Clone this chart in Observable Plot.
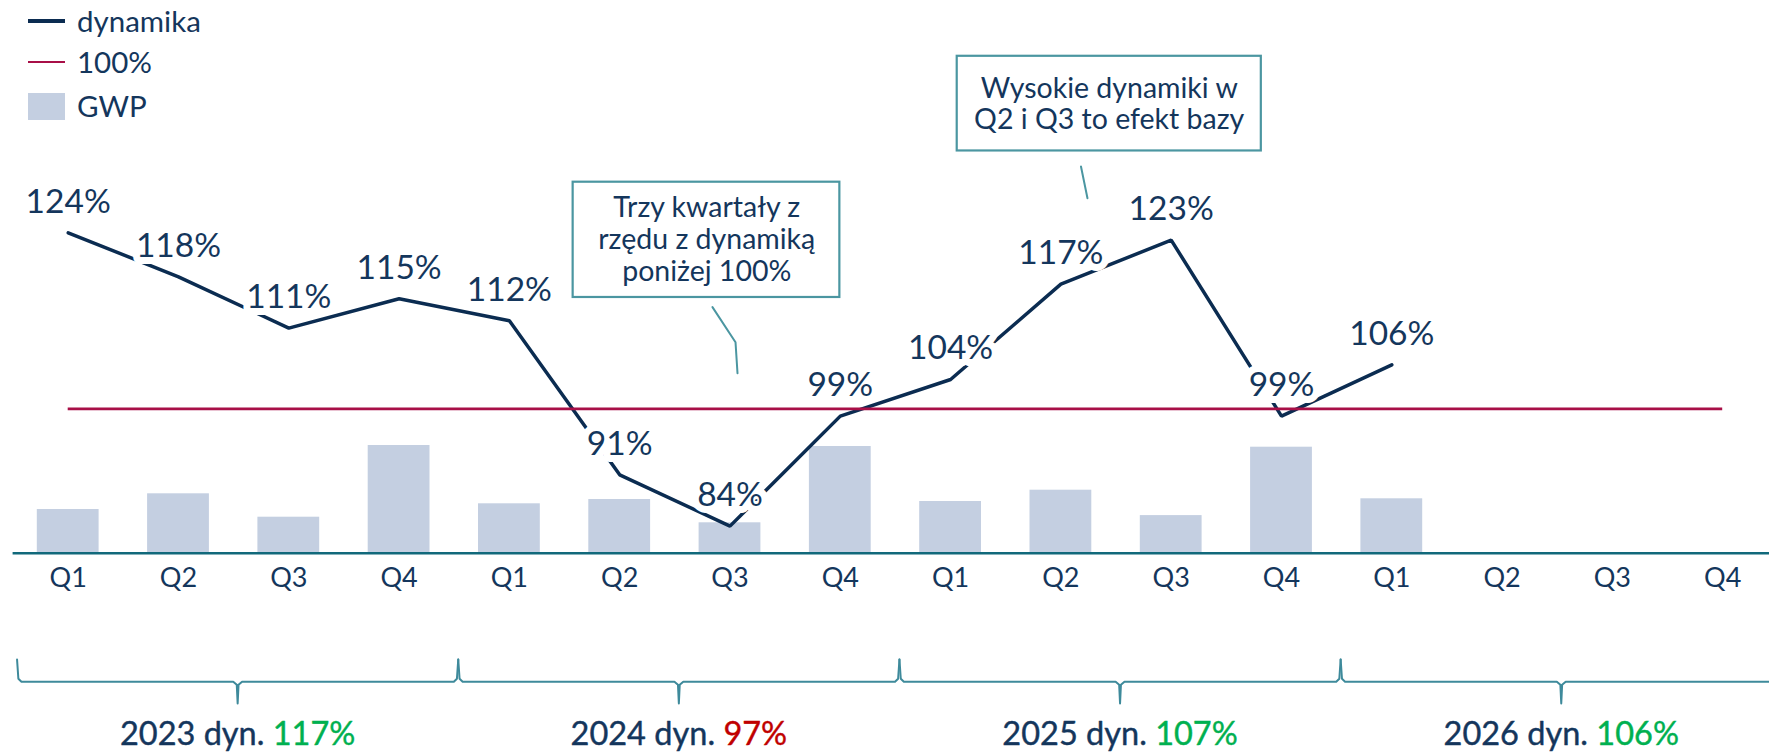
<!DOCTYPE html>
<html>
<head>
<meta charset="utf-8">
<script src="https://cdn.jsdelivr.net/npm/d3@7"></script>
<script src="https://cdn.jsdelivr.net/npm/@observablehq/plot@0.6"></script>
<style>
  html, body { margin: 0; padding: 0; background: #fff; overflow: hidden; }
  #wrap { position: relative; width: 1769px; height: 753px; font-family: Lato, "Open Sans", sans-serif; color: #14365c; }
  #wrap svg { position: absolute; left: 0; top: 0; }
  .lg { position: absolute; left: 28px; height: 34px; display: flex; align-items: center; font-size: 29.5px; line-height: 34px; white-space: nowrap; }
  .lg .sw { width: 37px; margin-right: 12px; }
</style>
</head>
<body>
<div id="wrap">
  <div class="lg" style="top:4px"><span class="sw" style="height:4px;background:#0b2c51"></span>dynamika</div>
  <div class="lg" style="top:45px"><span class="sw" style="height:2.7px;background:#a80f47"></span>100%</div>
  <div class="lg" style="top:89px"><span class="sw" style="height:27px;background:#c4cfe1"></span>GWP</div>
</div>
<script>
// ---- data ----
const quarters = ["Q1", "Q2", "Q3", "Q4"];
const years = ["2023", "2024", "2025", "2026"];
const dynamika = [124, 118, 111, 115, 112, 91, 84, 99, 104, 117, 123, 99, 106];
const gwp = [43.7, 59.4, 36, 107.7, 49.4, 53.7, 30.4, 106.7, 51.7, 63, 37.6, 106, 54.4];
const yearDyn = [117, 97, 107, 106];
const reference = [100];
const note1 = ["Trzy kwartały z", "rzędu z dynamiką", "poniżej 100%"];
const note2 = ["Wysokie dynamiki w", "Q2 i Q3 to efekt bazy"];

// ---- derived tables ----
const nPeriods = years.length * quarters.length;
const rows = dynamika.map((v, i) => ({i, dyn: v, gwp: gwp[i]}));

const NAVY = "#0b2c51", TEXT = "#14365c", BAR = "#c4cfe1", RED = "#a80f47",
      AXIS = "#11697b", TEAL = "#4b96a1", BRACE = "#3e8a9b", GOOD = "#00b050", BAD = "#c00000";

const X = {type: "linear", domain: [0, nPeriods - 1], range: [67.7, 1722.2]};

// bracket geometry (in bottom-plot y units, below the baseline)
const bTop = -106.3, bBase = -128.6, bTip = -150.3;
const brackets = years.flatMap((yr, k) => {
  const a = 4 * k - 0.5, c = 4 * k + 1.5, b = 4 * k + 3.5;
  return [
    [a, bTop], [a + 0.012, bBase + 3], [a + 0.04, bBase],
    [c - 0.04, bBase], [c - 0.008, bBase - 3], [c, bTip],
    [c + 0.008, bBase - 3], [c + 0.04, bBase],
    [b - 0.04, bBase], [b - 0.012, bBase + 3], [b, bTop]
  ].map(([x, y]) => ({year: yr, x, y}));
});

const bottomPlot = Plot.plot({
  width: 1769, height: 753,
  marginLeft: 12.6, marginRight: 0, marginTop: 0, marginBottom: 200.3,
  x: X,
  y: {domain: [0, 100], range: [552.7, 452.7], axis: null},
  style: {background: "transparent", fontFamily: "Lato, sans-serif", overflow: "visible"},
  marks: [
    Plot.rect(rows, {x1: d => d.i - 0.5, x2: d => d.i + 0.5, y1: 0, y2: "gwp",
      insetLeft: 24.25, insetRight: 24.25, fill: BAR}),
    Plot.ruleY([0], {stroke: AXIS, strokeWidth: 2.5}),
    Plot.axisX({ticks: d3.range(nPeriods), tickFormat: i => quarters[i % 4], tickSize: 0,
      tickPadding: 15, fontSize: 27, fill: TEXT, label: null}),
    Plot.line(brackets, {x: "x", y: "y", z: "year", stroke: BRACE, strokeWidth: 2, dx: 4}),
    Plot.text(years, {x: (d, k) => 4 * k + 1.5, y: -191.3, dx: 4,
      text: (d, k) => `${d} dyn. ${yearDyn[k]}%`, lineAnchor: "bottom",
      fontSize: 32.5, fill: TEXT, stroke: TEXT, strokeWidth: 0.4})
  ]
});

// colour the yearly percentage
d3.select(bottomPlot).selectAll("text").filter(function () { return / dyn\. /.test(this.textContent); })
  .each(function () {
    const m = this.textContent.match(/^(.* dyn\. )(\d+)%$/);
    if (!m) return;
    const c = +m[2] >= 100 ? GOOD : BAD;
    this.textContent = "";
    const s = d3.select(this).style("white-space", "pre");
    s.append("tspan").text(m[1]);
    s.append("tspan").attr("fill", c).attr("stroke", c).text(m[2] + "%");
  });

const topPlot = Plot.plot({
  width: 1769, height: 753, margin: 0,
  x: {...X, axis: null},
  y: {domain: [100, 124], range: [408.3, 232.3], axis: null},
  style: {background: "transparent", fontFamily: "Lato, sans-serif", overflow: "visible"},
  marks: [
    Plot.line(rows, {x: "i", y: "dyn", stroke: NAVY, strokeWidth: 3.5, strokeLinejoin: "miter"}),
    Plot.ruleY(reference, {x1: 0, x2: nPeriods - 1, stroke: RED, strokeWidth: 2.7}),
    Plot.text(rows, {x: "i", y: "dyn", text: d => `${d.dyn}%`, dy: -20, lineAnchor: "bottom",
      fontSize: 33.5, fill: TEXT, stroke: "white", strokeWidth: 14, strokeLinejoin: "round", paintOrder: "stroke"}),
    // annotation 1
    Plot.line([[5.841, 113.86], [6.05, 109.08], [6.068, 104.85]], {x: d => d[0], y: d => d[1], stroke: TEAL, strokeWidth: 2}),
    Plot.rect([note1], {x1: 4.578, x2: 6.996, y1: 115.18, y2: 130.9, fill: "white", stroke: TEAL, strokeWidth: 2.2}),
    Plot.text([note1], {x: 5.789, y: 123.18, text: d => d.join("\n"), lineAnchor: "middle",
      lineHeight: 1.11, fontSize: 28.5, fill: TEXT}),
    // annotation 2
    Plot.line([[9.182, 133.04], [9.241, 128.72]], {x: d => d[0], y: d => d[1], stroke: TEAL, strokeWidth: 2}),
    Plot.rect([note2], {x1: 8.06, x2: 10.817, y1: 135.16, y2: 148.07, fill: "white", stroke: TEAL, strokeWidth: 2.2}),
    Plot.text([note2], {x: 9.438, y: 141.67, text: d => d.join("\n"), lineAnchor: "middle",
      lineHeight: 1.11, fontSize: 28.5, fill: TEXT})
  ]
});

const wrap = document.getElementById("wrap");
wrap.insertBefore(topPlot, wrap.firstChild);
wrap.insertBefore(bottomPlot, wrap.firstChild);
</script>
</body>
</html>
